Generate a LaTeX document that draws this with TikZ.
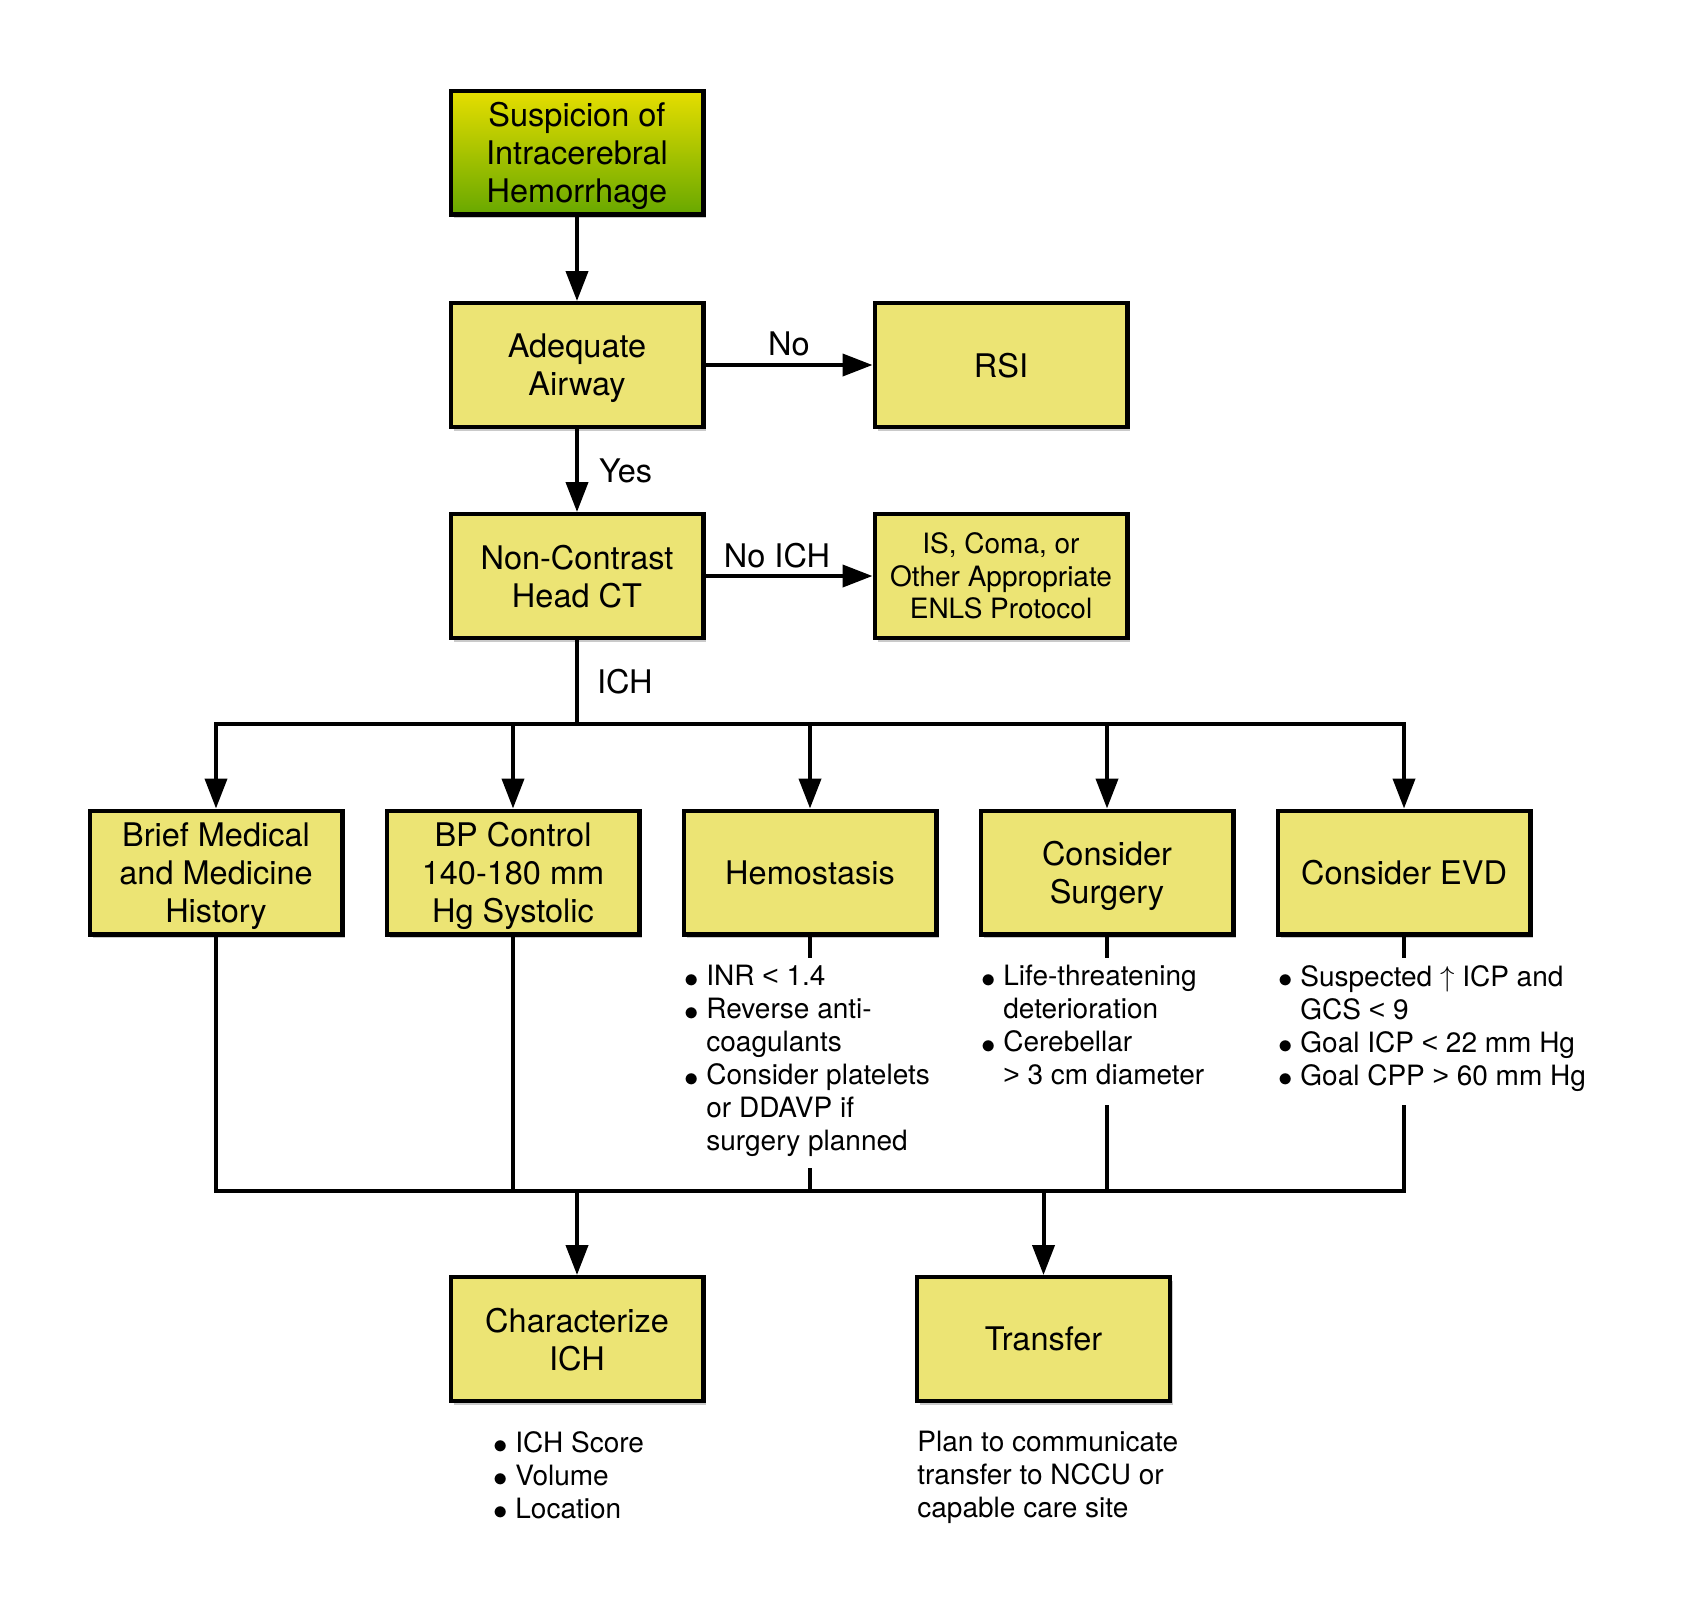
\documentclass[tikz,border=0pt]{standalone}
\usepackage{fontspec}
\setmainfont{TeX Gyre Heros}
\newfontfamily\symfont{Liberation Sans}
\usetikzlibrary{arrows.meta,shadows}

\definecolor{boxfill}{RGB}{236,228,116}
\definecolor{topyellow}{RGB}{230,222,0}
\definecolor{topgreen}{RGB}{104,168,0}

\newcommand{\bul}{\makebox[11pt][l]{\raisebox{-0.8pt}{$\bullet$}}}
\newcommand{\ind}{\hspace*{11pt}}
\newcommand{\lt}{{\symfont <}}
\newcommand{\gt}{{\symfont >}}

\tikzset{
	stepbox/.style={draw, line width=2.2pt, fill=boxfill, align=center,
		minimum width=126.3pt, minimum height=61.8pt, text depth=0pt,
		font=\fontsize{16.25}{19}\selectfont,
		drop shadow={shadow xshift=1.5pt, shadow yshift=-2pt, fill=black!60, opacity=0.35}},
	note/.style={font=\fontsize{14}{16.5}\selectfont, align=left, inner sep=0pt, anchor=north west},
	lab/.style={font=\fontsize{16.25}{19}\selectfont, inner sep=0pt},
	link/.style={line width=2pt, line cap=rect},
	arr/.style={link, -{Triangle[length=15pt, width=11pt]}}
}

\begin{document}
\begin{tikzpicture}[x=0.5pt, y=-0.5pt]
	\useasboundingbox (0,0) rectangle (1700,1608);

	% Top of the chart
	\node[stepbox, top color=topyellow, bottom color=topgreen] (sus) at (577,152.5) {Suspicion of\\Intracerebral\\Hemorrhage};
	\node[stepbox] (air) at (577,365) {Adequate\\Airway};
	\node[stepbox] (rsi) at (1001,365) {RSI};
	\node[stepbox] (ct) at (577,576) {Non-Contrast\\Head CT};
	\node[stepbox, font=\fontsize{14}{16.25}\selectfont] (enls) at (1001,576) {IS, Coma, or\\Other Appropriate\\ENLS Protocol};

	% Row of actions
	\node[stepbox] (hist) at (216,872.5) {Brief Medical\\and Medicine\\History};
	\node[stepbox] (bp) at (513,872.5) {BP Control\\140-180 mm\\Hg Systolic};
	\node[stepbox] (hemo) at (810,872.5) {Hemostasis};
	\node[stepbox] (surg) at (1107,872.5) {Consider\\Surgery};
	\node[stepbox] (evd) at (1404,872.5) {Consider EVD};

	% Bottom boxes
	\node[stepbox] (char) at (577,1339) {Characterize\\ICH};
	\node[stepbox] (trans) at (1043.5,1339) {Transfer};

	% Notes under the boxes
	\node[note] (hemonote) at (684,965) {\bul INR \lt{} 1.4\\\bul Reverse anti-\\\ind coagulants\\\bul Consider platelets\\\ind or DDAVP if\\\ind surgery planned};
	\node[note] (surgnote) at (981,965) {\bul Life-threatening\\\ind deterioration\\\bul Cerebellar\\\ind \gt{} 3 cm diameter};
	\node[note] (evdnote) at (1278,965) {\bul Suspected $\uparrow$ ICP and\\\ind GCS \lt{} 9\\\bul Goal ICP \lt{} 22 mm Hg\\\bul Goal CPP \gt{} 60 mm Hg};
	\node[note] (charnote) at (493,1431) {\bul ICH Score\\\bul Volume\\\bul Location};
	\node[note] (transnote) at (917,1431) {Plan to communicate\\transfer to NCCU or\\capable care site};

	% Decisions
	\draw[arr] (sus) -- (air);
	\draw[arr] (air) -- node[lab, above=3.75pt] {No} (rsi);
	\draw[arr] (air) -- node[lab, right=10pt] {Yes} (ct);
	\draw[arr] (ct) -- node[lab, above=2.75pt, xshift=-6pt] {No ICH} (enls);

	% Split into the actions
	\coordinate (split) at (577,724);
	\draw[link] (ct) -- node[lab, right=9pt] {ICH} (split);
	\draw[link] (split -| hist) -- (split -| evd);
	\foreach \n in {hist, bp, hemo, surg, evd}
		\draw[arr] (split -| \n) -- (\n);

	% Ticks to the notes
	\foreach \n in {hemo, surg, evd}
		\draw[link, line cap=butt] (\n.south) -- ++(0,21);

	% Join towards the bottom boxes
	\coordinate (join) at (577,1191);
	\coordinate (hemoend) at (810,1168);
	\coordinate (surgend) at (1107,1105);
	\coordinate (evdend) at (1404,1105);
	\draw[link] (hist) -- (hist |- join);
	\draw[link] (bp) -- (bp |- join);
	\draw[link] (hist |- join) -- (evd |- join);
	\foreach \n in {hemoend, surgend, evdend}
		\draw[link, line cap=butt] (\n) -- (\n |- join);
	\draw[arr] (join) -- (char);
	\draw[arr] (join -| trans) -- (trans);
\end{tikzpicture}
\end{document}
